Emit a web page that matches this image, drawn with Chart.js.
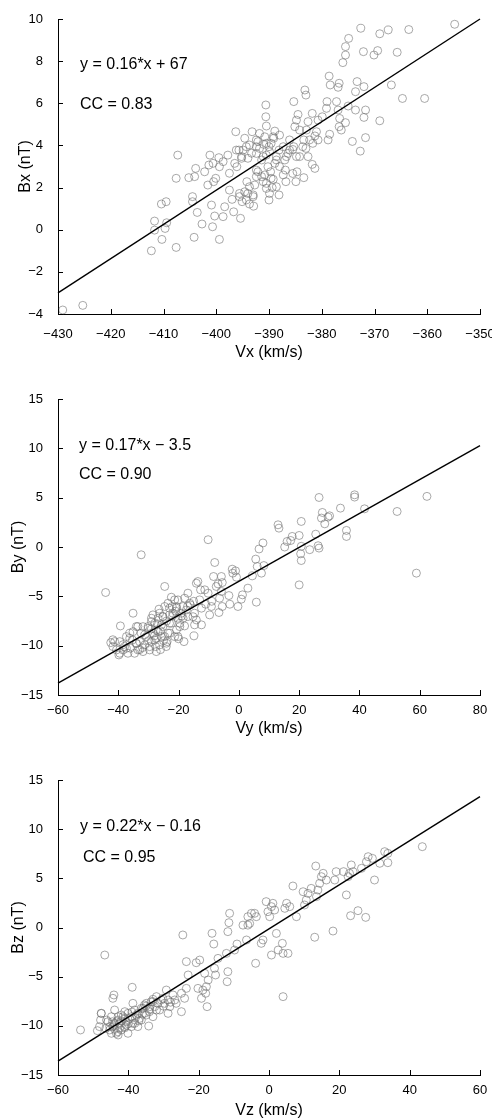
<!DOCTYPE html>
<html><head><meta charset="utf-8">
<script src="https://cdn.jsdelivr.net/npm/chart.js@4/dist/chart.umd.min.js"></script>
<style>
html,body{margin:0;padding:0;background:#fff;}
body{width:492px;height:1120px;position:relative;overflow:hidden;}
canvas{position:absolute;left:0;}
</style></head><body>
<canvas id="c1" width="492" height="380" style="top:0"></canvas>
<canvas id="c2" width="492" height="380" style="top:380px"></canvas>
<canvas id="c3" width="492" height="360" style="top:760px"></canvas>
<script>
// ---------- Panel 1: Vx vs Bx ----------
const vx = [-354.8,-363.5,-367.4,-369.0,-372.6,-374.9,-375.5,-375.5,-376.0,-372.1,-369.4,-370.1,-365.7,-366.8,-364.7,-360.5,-369.0,-371.7,-372.7,-374.2,-371.7,-372.0,-372.0,-373.3,-373.6,-373.6,-375.0,-375.5,-376.3,-376.7,-376.6,-376.7,-376.9,-377.2,-376.9,-378.6,-378.4,-379.0,-379.1,-378.5,-378.8,-379.9,-380.7,-381.0,-381.8,-381.3,-381.7,-381.8,-381.3,-382.6,-383.2,-383.0,-382.9,-383.4,-383.0,-382.6,-383.4,-384.5,-384.8,-385.1,-385.3,-385.3,-384.7,-384.9,-385.5,-386.4,-386.8,-387.3,-386.9,-387.0,-386.7,-388.0,-388.1,-388.1,-388.9,-389.1,-388.9,-389.2,-389.4,-389.9,-390.6,-390.6,-390.5,-390.8,-391.0,-390.0,-390.5,-390.2,-390.8,-391.1,-390.5,-390.0,-391.8,-392.1,-392.4,-392.1,-392.4,-392.7,-393.0,-392.9,-393.7,-393.2,-393.7,-394.0,-394.2,-394.0,-394.3,-394.6,-394.9,-395.2,-395.6,-395.1,-395.7,-396.1,-396.3,-396.5,-397.0,-396.7,-395.4,-397.8,-397.5,-398.4,-398.7,-399.4,-399.5,-399.4,-400.1,-400.5,-400.3,-400.7,-400.9,-400.6,-401.2,-401.4,-401.6,-402.2,-402.7,-403.6,-403.9,-404.1,-404.2,-404.5,-404.5,-405.2,-407.3,-407.6,-407.6,-409.5,-410.4,-409.7,-409.4,-410.3,-411.7,-411.7,-412.3,-425.3,-429.1,-389.6,-388.6,-389.7,-392.4,-391.4,-387.3,-386.1,-384.2,-380.7,-385.5,-396.2,-395.2,-394.3,-393.3,-392.4,-391.8,-391.1,-390.5,-389.9,-389.2,-388.6,-388.0,-392.4,-391.4,-390.5,-389.6,-388.6,-393.7,-394.6,-395.6,-393.0,-386.1,-384.8,-383.6,-384.2,-382.3,-397.5,-398.7];
const bx = [9.75,9.5,9.48,9.3,9.56,9.08,8.69,8.29,7.93,8.45,8.5,8.29,8.42,6.87,6.23,6.23,5.17,4.37,3.73,4.19,5.68,5.33,6.79,7.03,6.55,5.68,5.87,5.08,4.73,4.89,5.28,6.95,6.76,6.08,5.68,7.29,6.87,6.08,5.76,4.53,4.26,5.36,5.2,4.65,5.52,4.45,4.1,3.1,2.91,5.13,6.63,6.39,4.73,4.26,3.86,3.47,2.47,5.47,5.2,4.89,6.08,3.94,2.75,2.28,3.81,3.62,2.28,2.6,2.83,3.31,3.47,4.49,3.78,1.65,4.68,4.34,3.15,2.39,2.0,1.72,5.92,5.36,4.92,4.41,4.05,3.94,3.54,2.99,2.6,2.28,1.96,1.41,4.57,4.18,3.62,2.75,2.52,2.12,1.65,1.12,1.22,4.65,4.02,3.39,2.28,1.72,1.41,4.34,3.78,3.39,1.72,1.33,3.78,2.99,4.65,3.15,1.44,0.85,0.54,3.54,1.88,1.09,0.62,-0.46,3.42,2.99,2.44,2.28,0.65,0.14,1.17,3.15,3.54,3.07,2.12,2.75,0.27,0.82,2.91,2.52,-0.36,1.57,1.33,2.47,3.54,2.44,-0.84,1.33,1.22,0.06,0.33,-0.46,0.41,-0.02,-1.0,-3.59,-3.81,4.1,3.47,2.75,3.94,3.31,3.94,4.26,3.47,4.26,2.67,3.78,3.47,3.94,3.63,4.26,3.86,3.47,4.1,3.7,4.41,3.31,3.0,2.83,2.52,2.2,2.44,2.04,2.04,1.8,1.57,1.57,3.78,3.47,3.94,4.73,4.26,2.68,3.23];
const fitVx = [-430, -350];
const fitBx = [-3.0, 10.0];
const ticksVx = [-430,-420,-410,-400,-390,-380,-370,-360,-350];
const ticksBx = [-4,-2,0,2,4,6,8,10];

// ---------- Panel 2: Vy vs By ----------
const vy = [62.4,58.9,52.5,41.7,38.4,38.4,33.7,35.7,35.7,30.1,29.6,27.7,27.4,28.5,26.6,25.5,26.3,26.6,23.5,20.7,20.0,20.7,20.5,20.7,20.0,17.7,17.2,16.0,15.2,13.0,13.3,8.0,6.7,8.3,7.5,5.6,6.1,5.8,4.5,3.0,1.2,0.8,-0.3,-1.1,-2.0,-2.2,-0.8,-3.3,-3.0,-5.8,-5.5,-5.8,-6.4,-5.5,-6.6,-6.9,-7.5,-8.0,-10.2,-8.4,-9.1,-9.7,-10.2,-11.3,-12.4,-13.0,-13.6,-14.1,-12.7,-14.7,-14.7,-14.1,-12.4,-14.9,-16.1,-16.9,-16.9,-18.0,-18.5,-18.2,-19.1,-19.6,-20.2,-20.7,-20.2,-20.7,-21.3,-22.1,-22.4,-23.0,-23.0,-23.5,-23.8,-24.1,-24.6,-24.6,-25.2,-25.2,-25.7,-26.3,-26.5,-26.8,-27.4,-27.4,-27.6,-27.9,-28.5,-29.0,-29.6,-29.0,-30.1,-30.7,-31.2,-31.8,-32.4,-32.4,-32.9,-33.5,-34.0,-34.6,-35.1,-35.3,-36.0,-36.8,-37.3,-37.9,-38.4,-39.3,-39.8,-40.6,-41.2,-41.8,-42.5,-44.2,-39.5,-36.2,-33.5,-28,-26,-24,-22,-21,-25,-30,-32,-27,-23,-19,-17,-15,-11,-9,-18,-20,-34,-29,-26,-41.8,-38.4,-36.2,-34.0,-32.9,-31.2,-30.1,-29.0,-27.9,-26.8,-25.7,-25.2,-24.0,-22.9,-22.4,-21.9,-20.7,-19.6,-18.5,-17.4,-16.3,-15.2,-21.3,-23.5,-26.3,-28.5,-31.8,-35.1,-37.3,-39.5,-29.6,-27.4,-24.6,-20.2];
const by = [5.13,-2.65,3.6,3.87,5.29,5.06,3.94,1.68,1.07,3.16,3.03,3.5,2.93,2.35,5.02,1.3,0.13,-0.11,-0.27,2.59,1.17,0.07,-0.69,-1.37,-3.84,1.07,0.66,0.56,0.0,2.25,1.91,0.41,-0.2,-1.88,-2.65,-1.23,-1.98,-5.59,-2.92,-4.17,-4.85,-5.29,-6.03,-2.42,-2.65,-2.25,-3.06,-4.92,-5.8,-2.99,-3.6,-4.51,-5.19,-6.03,-6.64,-3.74,-4.0,-1.57,0.74,-2.99,-6.03,-6.88,-4.68,-4.34,-6.2,-5.36,-3.5,-3.67,-4.34,-6.71,-7.89,-7.39,-7.89,-9.01,-5.87,-4.68,-7.05,-5.19,-6.03,-9.59,-6.71,-7.73,-5.36,-6.2,-7.22,-8.4,-9.08,-6.03,-5.09,-6.88,-7.73,-8.74,-9.59,-10.09,-4.0,-6.03,-7.05,-8.06,-9.08,-9.92,-6.3,-7.22,-8.4,-9.25,-10.09,-7.73,-8.74,-9.59,-10.43,-7.22,-8.06,-9.08,-9.92,-10.6,-0.79,-8.74,-9.59,-10.43,-8.06,-10.77,-6.71,-9.42,-10.26,-10.77,-9.08,-10.09,-10.43,-8.0,-10.94,-10.43,-9.59,-10.09,-9.69,-4.61,-9.59,-8.74,-8.06,-9.0,-8.5,-7.5,-7.0,-6.5,-9.5,-9.5,-10.2,-7.8,-6.2,-7.0,-6.0,-5.5,-5.8,-5.5,-8.0,-9.3,-9.8,-8.3,-10.4,-9.4,-9.9,-9.25,-9.75,-10.4,-8.9,-8.23,-7.56,-9.42,-8.58,-7.9,-7.06,-9.75,-8.74,-7.72,-6.71,-6.04,-8.07,-7.22,-6.38,-5.7,-7.06,-5.36,-5.7,-6.71,-6.88,-8.07,-8.58,-10.26,-10.77,-10.1,-10.6,-9.08,-9.08];
const fitVy = [-60, 80];
const fitBy = [-13.8, 10.27];
const ticksVy = [-60,-40,-20,0,20,40,60,80];
const ticksBy = [-15,-10,-5,0,5,10,15];

// ---------- Panel 3: Vz vs Bz ----------
const vz = [43.6,33.8,33.8,32.9,31.5,30.0,29.4,28.2,27.7,27.5,26.3,25.3,23.9,23.4,22.9,22.5,23.2,22.0,21.2,19.1,18.7,18.2,16.3,15.4,14.9,14.4,13.9,13.3,13.5,13.0,12.0,11.1,10.1,9.7,10.6,6.8,7.8,5.9,5.0,4.5,5.4,3.8,4.0,2.6,4.0,1.6,1.1,0.7,0.2,2.1,0.7,-0.8,-0.3,-1.7,-2.2,-3.6,-4.1,-5.0,-5.5,-6.0,-6.4,-6.0,-7.4,-3.8,-9.1,-9.8,-11.2,-11.4,-11.7,-11.7,-11.9,-12.1,-14.5,-15.5,-15.2,-15.7,-16.2,-17.3,-17.8,-18.3,-18.0,-18.8,-19.2,-17.6,-19.7,-20.2,-20.7,-23.0,-23.5,-23.5,-24.0,-24.5,-24.9,-24.9,-26.4,-26.8,-27.3,-28.2,-28.7,-29.2,-29.7,-30.6,-31.1,-32.0,-32.5,-33.0,-33.5,-34.0,-34.2,-34.9,-35.4,-35.8,-36.3,-36.8,-37.3,-37.7,-38.7,-38.2,-38.9,-39.1,-39.6,-40.1,-40.6,-41.0,-41.5,-42.0,-42.5,-42.9,-43.4,-43.9,-44.1,-44.4,-43.9,-44.5,-44.8,-45.3,-45.8,-46.4,-46.7,-47.7,-47.9,-48.2,-48.8,-53.6,-42.9,-41.0,-44,-42,-40,-38,-36,-34,-32,-30,-28,-43,-41,-39,-37,-35,-33,-47.7,-46.2,-44.8,-43.9,-42.9,-42.0,-41.0,-40.1,-39.1,-38.2,-37.3,-36.3,-35.4,-33.9,-33.0,-31.6,-30.2,-28.7,-44.4,-42.5,-40.6,-45.3,-43.4,-38.7,-34.9];
const bz = [8.22,6.59,7.54,7.71,6.53,4.83,7.03,7.2,6.69,1.03,6.02,1.71,5.68,6.36,5.51,5.17,1.2,3.31,5.68,5.68,4.83,-0.36,4.83,5.51,5.17,4.49,3.81,6.25,3.14,-0.99,3.98,3.47,2.29,3.64,2.8,4.22,1.1,2.12,2.46,1.95,-2.63,-1.61,-2.63,-2.29,-7.03,1.78,2.46,2.12,1.1,-0.6,-2.8,2.63,1.61,-1.27,-1.61,1.1,1.44,1.44,0.41,0.24,-1.27,1.1,0.24,-3.64,-1.68,-2.29,1.44,0.49,-0.42,-4.49,-5.51,-2.63,-3.14,-4.15,-4.83,-1.68,-0.59,-5.34,-6.02,-4.66,-6.69,-6.36,-7.2,-8.05,-3.31,-6.19,-3.58,-4.83,-3.47,-6.19,-7.2,-0.76,-6.69,-8.56,-7.71,-7.37,-6.86,-8.05,-8.73,-6.36,-7.71,-7.37,-8.39,-7.03,-8.05,-9.07,-7.54,-8.56,-10.02,-7.71,-8.73,-8.22,-9.41,-9.24,-10.08,-8.9,-7.71,-9.75,-6.08,-10.08,-9.24,-10.76,-9.58,-10.08,-9.07,-10.42,-9.75,-10.93,-9.58,-10.36,-6.86,-7.2,-8.39,-9.58,-10.76,-10.08,-9.58,-10.25,-2.8,-8.73,-9.41,-10.08,-10.49,-10.42,-9.07,-8.56,-9.9,-9.5,-9.8,-9.2,-8.8,-8.3,-8.4,-8.0,-7.6,-10.6,-10.2,-8.6,-9.5,-8.0,-7.3,-8.73,-9.41,-9.07,-9.75,-9.41,-8.9,-9.24,-8.73,-9.07,-8.39,-8.73,-8.22,-7.88,-8.05,-7.54,-7.71,-7.2,-7.37,-10.09,-10.25,-9.92,-10.42,-10.76,-9.75,-8.9];
const fitVz = [-60, 60];
const fitBz = [-13.58, 13.31];
const ticksVz = [-60,-40,-20,0,20,40,60];
const ticksBz = [-15,-10,-5,0,5,10,15];

const FONT = "'Liberation Sans', Arial, Helvetica, sans-serif";
const fmt = v => String(v).replace('-', '\u2212');

const inTicks = {
  id: 'inTicks',
  afterDatasetsDraw(chart) {
    const {ctx, chartArea: a, scales: {x, y}} = chart;
    ctx.save();
    ctx.strokeStyle = '#000';
    ctx.lineWidth = 1;
    ctx.beginPath();
    x.ticks.forEach(t => {
      const p = Math.round(x.getPixelForValue(t.value)) + 0.5;
      ctx.moveTo(p, a.bottom); ctx.lineTo(p, a.bottom - 5);
    });
    y.ticks.forEach(t => {
      const p = Math.round(y.getPixelForValue(t.value)) + 0.5;
      ctx.moveTo(a.left, p); ctx.lineTo(a.left + 5, p);
    });
    ctx.stroke();
    ctx.restore();
  }
};

const notes = {
  id: 'notes',
  afterDraw(chart, args, opts) {
    const ctx = chart.ctx;
    ctx.save();
    ctx.fillStyle = '#000';
    ctx.font = '16px ' + FONT;
    ctx.textBaseline = 'middle';
    ctx.textAlign = 'left';
    (opts.items || []).forEach(it => ctx.fillText(it.text, it.x, it.y));
    ctx.restore();
  }
};

function makeChart(id, c) {
  new Chart(document.getElementById(id), {
    type: 'scatter',
    data: {
      datasets: [
        {
          data: c.fitX.map((x, i) => ({x, y: c.fitY[i]})),
          showLine: true, borderColor: '#000', borderWidth: 1.4,
          pointRadius: 0, pointHoverRadius: 0, fill: false, clip: false
        },
        {
          data: c.xs.map((x, i) => ({x, y: c.ys[i]})),
          pointStyle: 'circle', pointRadius: 4, pointHoverRadius: 4,
          borderColor: 'rgba(110,110,110,0.75)', borderWidth: 0.8,
          backgroundColor: 'rgba(0,0,0,0)', clip: false
        }
      ]
    },
    options: {
      responsive: false, animation: false, events: [],
      layout: {padding: {top: c.padTop, right: 12, bottom: 0, left: 0}},
      plugins: {legend: {display: false}, tooltip: {enabled: false}, notes: {items: c.notes}},
      scales: {
        x: {
          type: 'linear', min: c.xTicks[0], max: c.xTicks[c.xTicks.length - 1],
          afterBuildTicks: s => { s.ticks = c.xTicks.map(v => ({value: v})); },
          grid: {display: false},
          border: {display: true, color: '#000', width: 1},
          ticks: {padding: c.xTickPad, color: '#000', font: {family: FONT, size: 13},
                  maxRotation: 0, autoSkip: false, callback: v => fmt(v)},
          title: {display: true, text: c.xTitle, color: '#000', font: {family: FONT, size: 16},
                  padding: {top: 0, bottom: c.xTitlePad}},
          afterFit: s => { s.height = c.xAxisH; s.paddingLeft = 0; s.paddingRight = 0; }
        },
        y: {
          type: 'linear', min: c.yTicks[0], max: c.yTicks[c.yTicks.length - 1],
          afterBuildTicks: s => { s.ticks = c.yTicks.map(v => ({value: v})); },
          grid: {display: false},
          border: {display: true, color: '#000', width: 1},
          ticks: {padding: 7, color: '#000', font: {family: FONT, size: 13},
                  autoSkip: false, callback: v => fmt(v)},
          title: {display: true, text: c.yTitle, color: '#000', font: {family: FONT, size: 16},
                  padding: {top: c.yTitlePad, bottom: 0}},
          afterFit: s => { s.width = 58; s.paddingTop = 0; s.paddingBottom = 0; }
        }
      }
    },
    plugins: [inTicks, notes]
  });
}

makeChart('c1', {xs: vx, ys: bx, fitX: fitVx, fitY: fitBx, xTicks: ticksVx, yTicks: ticksBx,
  xTitle: 'Vx (km/s)', yTitle: 'Bx (nT)', padTop: 19, xAxisH: 66, xTickPad: 5, xTitlePad: 18, yTitlePad: 16,
  notes: [{text: 'y = 0.16*x + 67', x: 80, y: 65}, {text: 'CC = 0.83', x: 80, y: 105}]});
makeChart('c2', {xs: vy, ys: by, fitX: fitVy, fitY: fitBy, xTicks: ticksVy, yTicks: ticksBy,
  xTitle: 'Vy (km/s)', yTitle: 'By (nT)', padTop: 19, xAxisH: 65, xTickPad: 0, xTitlePad: 22, yTitlePad: 9,
  notes: [{text: 'y = 0.17*x \u2212 3.5', x: 79, y: 66}, {text: 'CC = 0.90', x: 79, y: 95}]});
makeChart('c3', {xs: vz, ys: bz, fitX: fitVz, fitY: fitBz, xTicks: ticksVz, yTicks: ticksBz,
  xTitle: 'Vz (km/s)', yTitle: 'Bz (nT)', padTop: 20, xAxisH: 45, xTickPad: 0, xTitlePad: 0, yTitlePad: 9,
  notes: [{text: 'y = 0.22*x \u2212 0.16', x: 80, y: 67}, {text: 'CC = 0.95', x: 83, y: 98}]});
</script>
</body></html>
